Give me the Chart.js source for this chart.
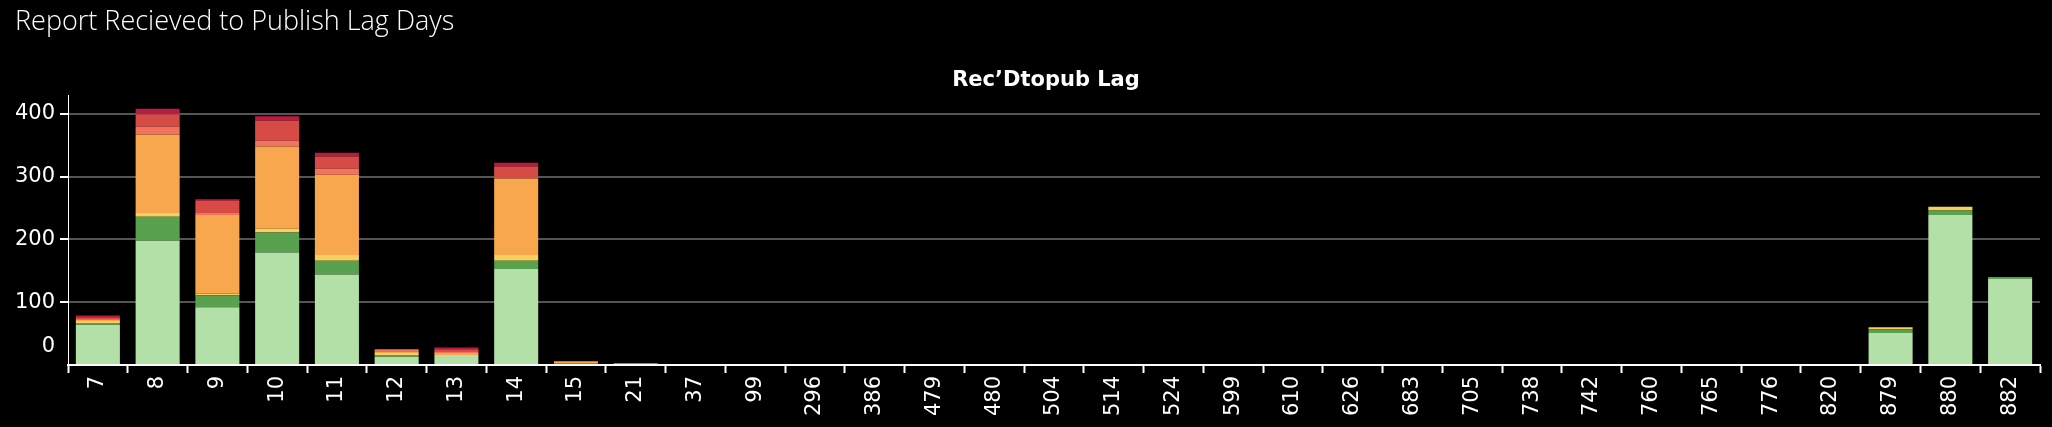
<!DOCTYPE html>
<html><head><meta charset="utf-8">
<script src="https://cdn.jsdelivr.net/npm/chart.js@4.4.1/dist/chart.umd.min.js"></script>
<style>
html,body{margin:0;padding:0;background:#000;overflow:hidden}
#wrap{width:2052px;height:427px;position:relative}
</style>
</head><body><div id="wrap"><canvas id="c"></canvas></div>
<script>
const chartTitle = 'Report Recieved to Publish Lag Days';
const axisTitle = 'Rec\u2019Dtopub Lag';
const categories = ['7','8','9','10','11','12','13','14','15','21','37','99','296','386','479','480','504','514','524','599','610','626','683','705','738','742','760','765','776','820','879','880','882'];
const yTicks = [0,100,200,300,400];
const seriesNames = ['Band 1','Band 2','Band 3','Band 4','Band 5','Band 6','Band 7'];
const band1 = [64,198,92,179,144,13,16,153,0,0, 0,0,0,0,0,0,0,0,0,0,0,0,0,0,0,0,0,0,0,0, 51,239,137];
const band2 = [3,38,19,32,22,3,0,13,3,3, 0,0,0,0,0,0,0,0,0,0,0,0,0,0,0,0,0,0,0,0, 6,7,3];
const band3 = [3,6,3,6,9,3,0,9,0,0, 0,0,0,0,0,0,0,0,0,0,0,0,0,0,0,0,0,0,0,0, 3,6,0];
const band4 = [3,125,125,131,128,3,3,122,3,0, 0,0,0,0,0,0,0,0,0,0,0,0,0,0,0,0,0,0,0,0, 0,0,0];
const band5 = [0,13,3,9,10,3,3,0,0,0, 0,0,0,0,0,0,0,0,0,0,0,0,0,0,0,0,0,0,0,0, 0,0,0];
const band6 = [3,19,19,32,19,0,3,19,0,0, 0,0,0,0,0,0,0,0,0,0,0,0,0,0,0,0,0,0,0,0, 0,0,0];
const band7 = [3,9,3,7,6,0,3,6,0,0, 0,0,0,0,0,0,0,0,0,0,0,0,0,0,0,0,0,0,0,0, 0,0,0];
const seriesValues = [band1,band2,band3,band4,band5,band6,band7];
const seriesColors = ['#b3e0a6','#59a14f','#f7cf5e','#f8a74f','#f3735d','#d74b47','#b81d40'];

const textPlugin = {
  id: 'texts',
  beforeDraw(chart){
    const ctx = chart.ctx;
    ctx.save();
    ctx.fillStyle = '#000';
    ctx.fillRect(0,0,chart.width,chart.height);
    ctx.restore();
  },
  afterDraw(chart){
    const ctx = chart.ctx;
    const ys = chart.scales.y;
    ctx.save();
    ctx.fillStyle = '#ffffff';
    ctx.textBaseline = 'alphabetic';
    ctx.textAlign = 'left';
    ctx.font = '300 27px "Open Sans"';
    ctx.fillText(chartTitle, 15, 30);
    ctx.textAlign = 'center';
    ctx.font = 'bold 21px "DejaVu Sans"';
    ctx.fillText(axisTitle, 1046, 86);
    ctx.textAlign = 'right';
    ctx.textBaseline = 'middle';
    ctx.font = '21px "DejaVu Sans"';
    ctx.fillText(String(yTicks[0]), 55, ys.getPixelForValue(yTicks[0]) - 18);
    ctx.restore();
  }
};

new Chart(document.getElementById('c'), {
  type: 'bar',
  data: {
    labels: categories,
    datasets: seriesValues.map((v,i)=>({
      label: seriesNames[i], data: v, backgroundColor: seriesColors[i],
      borderWidth: 0, categoryPercentage: 1, barPercentage: 0.737
    }))
  },
  options: {
    responsive: true, maintainAspectRatio: false, animation: false,
    layout: { padding: { top: 95, left: 0, right: 12, bottom: 0 } },
    plugins: { legend: { display: false }, tooltip: { enabled: false }, title: { display: false } },
    scales: {
      x: {
        stacked: true,
        afterFit(s){ s.height = 62; },
        grid: { display: true, drawOnChartArea: false, drawTicks: true, tickLength: 8, tickColor: '#ffffff', tickWidth: 2, offset: true },
        border: { display: true, color: '#ffffff', width: 2 },
        ticks: { color: '#ffffff', font: { family: 'DejaVu Sans', size: 21 }, minRotation: 90, maxRotation: 90, autoSkip: false, padding: 3 }
      },
      y: {
        stacked: true, min: 0, max: 430,
        afterFit(s){ s.width = 68; },
        afterBuildTicks(s){ s.ticks = yTicks.map(v=>({value: v})); },
        grid: {
          drawTicks: true, tickLength: 8, lineWidth: 2,
          color: c => (c.tick && c.tick.value === 0) ? 'rgba(0,0,0,0)' : '#555555',
          tickColor: c => (c.tick && c.tick.value === 0) ? 'rgba(0,0,0,0)' : '#ffffff'
        },
        border: { display: true, color: '#ffffff', width: 1 },
        ticks: { color: '#ffffff', font: { family: 'DejaVu Sans', size: 21 }, padding: 5,
          callback: v => v === 0 ? '' : String(v) }
      }
    }
  },
  plugins: [textPlugin]
});
</script>
</body></html>
